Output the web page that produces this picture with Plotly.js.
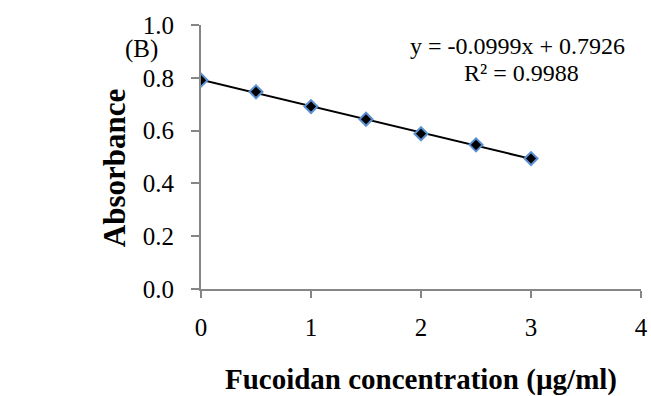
<!DOCTYPE html>
<html><head><meta charset="utf-8">
<script src="https://cdn.plot.ly/plotly-3.0.1.min.js"></script>
<style>html,body{margin:0;padding:0;background:#fff}</style>
</head><body>
<div id="chart" style="width:651px;height:396px"></div>
<script>
const concentration = [0, 0.5, 1, 1.5, 2, 2.5, 3];
const absorbance = [0.791, 0.747, 0.691, 0.643, 0.588, 0.546, 0.494];
const slope = -0.0999;
const intercept = 0.7926;
const trendX = [0, 3];
const equationLabel = "y = -0.0999x + 0.7926";
const r2Label = "R² = 0.9988";
const panelLabel = "(B)";
const xTitle = "<b>Fucoidan concentration (µg/ml)</b>";
const yTitle = "<b>Absorbance</b>";
const xTicks = [0, 1, 2, 3, 4];
const yTicks = [0, 0.2, 0.4, 0.6, 0.8, 1.0];
const yTickText = ["0.0", "0.2", "0.4", "0.6", "0.8", "1.0"];

const font = "Liberation Serif, Times New Roman, serif";
const traces = [
  {x: trendX, y: trendX.map(v => slope * v + intercept), mode: "lines",
   line: {color: "#000", width: 2}, hoverinfo: "skip", showlegend: false},
  {x: concentration, y: absorbance, mode: "markers",
   marker: {symbol: "diamond", size: 10, color: "#000", line: {color: "#5b8fd0", width: 2}},
   showlegend: false}
];
const layout = {
  width: 651, height: 396,
  margin: {l: 201, r: 10, t: 25, b: 107},
  paper_bgcolor: "#fff", plot_bgcolor: "#fff",
  font: {family: font, color: "#000", size: 25},
  xaxis: {range: [0, 4], tickvals: xTicks, ticks: "outside", ticklen: 7, tickwidth: 2, tickcolor: "#868686",
    showline: true, linecolor: "#868686", linewidth: 2, showgrid: false, zeroline: false,
    tickfont: {size: 25, family: font}, ticklabelstandoff: 8, fixedrange: true,
    title: {text: xTitle, font: {size: 29, family: font}, standoff: 30}},
  yaxis: {range: [0, 1.0], tickvals: yTicks, ticktext: yTickText, ticks: "outside", ticklen: 8, tickwidth: 2, tickcolor: "#868686",
    showline: true, linecolor: "#868686", linewidth: 2, showgrid: false, zeroline: false,
    tickfont: {size: 25, family: font}, ticklabelstandoff: 12, fixedrange: true},
  annotations: [
    {text: equationLabel, xref: "paper", yref: "paper", x: (517 - 201) / 440, y: (289 - 45.5) / 264.5,
     showarrow: false, xanchor: "center", yanchor: "middle", font: {size: 24, family: font}},
    {text: r2Label, xref: "paper", yref: "paper", x: (521 - 201) / 440, y: (289 - 73) / 264.5,
     showarrow: false, xanchor: "center", yanchor: "middle", font: {size: 24, family: font}},
    {text: panelLabel, xref: "paper", yref: "paper", x: (141 - 201) / 440, y: (289 - 49) / 264.5,
     showarrow: false, xanchor: "center", yanchor: "middle", font: {size: 25, family: font}},
    {text: yTitle, xref: "paper", yref: "paper", x: (114 - 201) / 440, y: (289 - 168) / 264.5,
     textangle: -90, showarrow: false, xanchor: "center", yanchor: "middle", font: {size: 31, family: font}}
  ]
};
Plotly.newPlot("chart", traces, layout, {displayModeBar: false, staticPlot: true});
</script>
</body></html>
